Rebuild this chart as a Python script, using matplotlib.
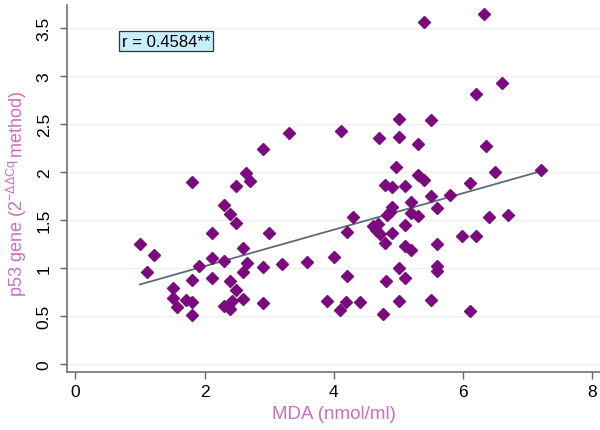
import numpy as np
import matplotlib
matplotlib.use("Agg")
import matplotlib.pyplot as plt

# MDA (nmol/ml) vs p53 gene expression
mda = [
    1.00, 1.21, 1.11, 1.51, 1.51, 1.57, 1.71, 1.81, 1.81, 1.81,
    1.81, 1.91, 2.11, 2.11, 2.11, 2.30, 2.40, 2.49, 2.49, 2.30,
    2.40, 2.49, 2.30, 2.40, 2.42, 2.64, 2.70, 2.60, 2.65, 2.60,
    2.60, 2.91, 2.91, 2.91, 3.00, 3.20, 3.30, 3.58, 3.90, 4.00,
    4.10, 4.11, 4.19, 4.20, 4.20, 4.30, 4.40, 4.61, 4.68, 4.66,
    4.71, 4.70, 4.76, 4.80, 4.79, 4.79, 4.82, 4.87, 4.90, 4.90,
    4.90, 4.96, 5.01, 5.01, 5.01, 5.01, 5.10, 5.10, 5.10, 5.10,
    5.20, 5.20, 5.20, 5.30, 5.30, 5.30, 5.40, 5.40, 5.50, 5.50,
    5.50, 5.60, 5.60, 5.60, 5.60, 5.80, 5.99, 6.10, 6.10, 6.20,
    6.20, 6.32, 6.35, 6.40, 6.49, 6.60, 6.70, 7.20,
]
p53 = [
    1.25, 1.14, 0.96, 0.79, 0.69, 0.59, 0.67, 0.65, 0.51, 0.88,
    1.90, 1.02, 1.37, 1.10, 0.90, 1.66, 1.56, 1.47, 1.85, 1.07,
    0.86, 0.77, 0.60, 0.57, 0.66, 1.99, 1.91, 1.21, 1.05, 0.96,
    0.68, 2.24, 1.01, 0.64, 1.37, 1.04, 2.41, 1.06, 0.66, 1.11,
    0.56, 2.43, 0.65, 0.92, 1.38, 1.53, 0.65, 1.44, 1.46, 1.40,
    1.35, 2.35, 0.52, 0.86, 1.26, 1.87, 1.55, 1.58, 1.64, 1.84,
    1.36, 2.05, 2.55, 2.36, 1.00, 0.66, 1.85, 1.45, 1.23, 0.90,
    1.69, 1.57, 1.19, 2.29, 1.97, 1.54, 1.92, 3.56, 2.54, 1.75,
    0.67, 1.63, 1.25, 1.02, 0.97, 1.76, 1.33, 1.89, 0.55, 2.81,
    1.33, 3.65, 2.27, 1.53, 2.00, 2.93, 1.55, 2.02,
]
x_ticks = [0, 2, 4, 6, 8]
y_ticks = [0, 0.5, 1, 1.5, 2, 2.5, 3, 3.5]
y_tick_labels = ["0", "0.5", "1", "1.5", "2", "2.5", "3", "3.5"]
r_text = "r = 0.4584**"

plt.rcParams["font.family"] = ["Liberation Sans", "DejaVu Sans"]
plt.rcParams["mathtext.fontset"] = "custom"
plt.rcParams["mathtext.rm"] = "Liberation Sans"
plt.rcParams["mathtext.it"] = "Liberation Sans"

label_color = "#cf6cc0"
axis_color = "#666666"

fig = plt.figure(figsize=(6.0, 4.31), dpi=100)
ax = fig.add_axes([0.1117, 0.1346, 0.8883, 0.8515])

x = np.array(mda)
y = np.array(p53)

# fitted line across the data range
slope, intercept = np.polyfit(x, y, 1)
xs = np.array([x.min(), x.max()])
ax.plot(xs, intercept + slope * xs, color="#5c6b7a", lw=1.3, zorder=3)

ax.plot(x, y, linestyle="none", marker="D", ms=6.1,
        color="#7b0a7e", mec="#7b0a7e", zorder=4)

ax.set_xlim(-0.13, 8.12)
ax.set_ylim(-0.083, 3.74)
ax.set_xticks(x_ticks)
ax.set_yticks(y_ticks)
ax.set_yticklabels(y_tick_labels, rotation=90, va="center")
ax.yaxis.grid(True, color="#eeeeee", lw=0.9)
ax.set_axisbelow(True)

for side in ("top", "right"):
    ax.spines[side].set_visible(False)
for side in ("left", "bottom"):
    ax.spines[side].set_color(axis_color)
    ax.spines[side].set_linewidth(1.1)

ax.tick_params(axis="both", colors=axis_color, labelcolor="black",
               labelsize=12.5, length=5, width=1)
ax.tick_params(axis="y", pad=6)
ax.tick_params(axis="x", pad=4)

ax.set_xlabel("MDA (nmol/ml)", color=label_color, fontsize=13.5, labelpad=4)
ax.set_ylabel(r"p53 gene (2$^{-\Delta\Delta \mathrm{Cq}}\,$method)",
              color=label_color, fontsize=13)
ax.yaxis.set_label_coords(-0.072, 0.489)

ax.text(0.72, 3.36, r_text, fontsize=12, va="center", ha="left",
        bbox=dict(boxstyle="square,pad=0.15", fc="#c9eefb", ec="#333333", lw=0.9))

fig.savefig("out.png", dpi=100)
